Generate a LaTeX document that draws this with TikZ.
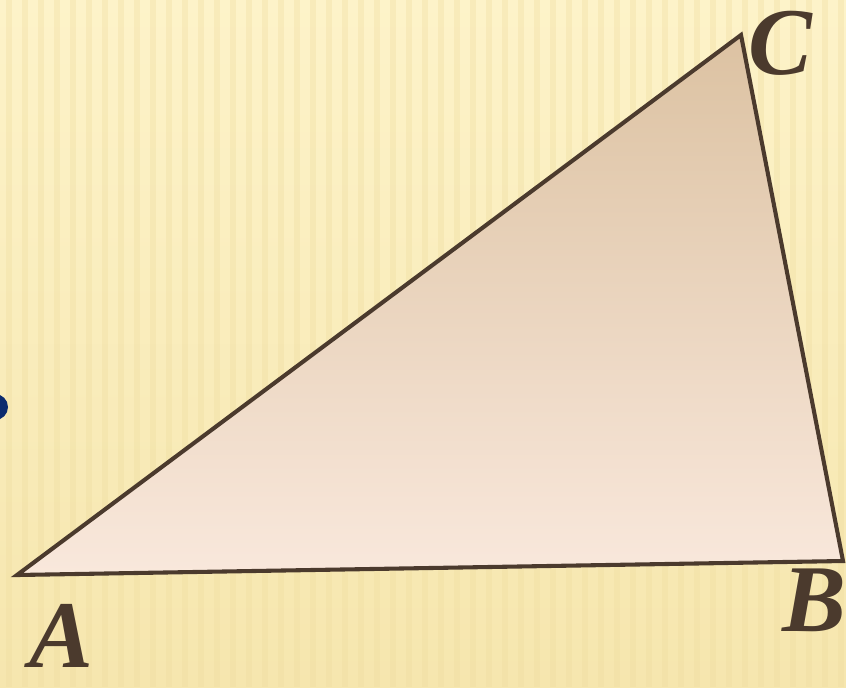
\documentclass[tikz,border=0pt]{standalone}
\usepackage{fontspec}
\setmainfont{Liberation Serif}

\definecolor{bgTop}{HTML}{FDF3C9}
\definecolor{bgBottom}{HTML}{F6E6AE}
\definecolor{stripe}{HTML}{EFDDA0}
\definecolor{fillTop}{HTML}{DCC2A2}
\definecolor{fillBottom}{HTML}{F9E8DC}
\definecolor{edgeBrown}{HTML}{4B3A2D}
\definecolor{dotBlue}{HTML}{0C2B6E}

\begin{document}
\begin{tikzpicture}[
    x=0.025cm, % one unit is one pixel of the slide
    y=-0.025cm, % y runs downwards, as on the slide
    side/.style={draw=edgeBrown, line width=2.9pt, line join=miter},
    vertex label/.style={font=\fontsize{68}{68}\selectfont\bfseries\itshape,
                         text=edgeBrown, inner sep=0pt}
    ]

% --- Frame and background ---
\useasboundingbox (0,0) rectangle (846,687);
\begin{scope}
    \clip (0,0) rectangle (846,687);
    \shade[top color=bgTop, bottom color=bgBottom] (0,0) rectangle (846,687);
    \foreach \x in {6,22,...,846} {
        \fill[stripe, opacity=0.35] (\x,0) rectangle ++(6,687);
    }
    % dot on the left edge
    \fill[dotBlue] (-5,407) circle (13);
\end{scope}

% --- Vertices ---
\coordinate (A) at (17,575);
\coordinate (B) at (843,561);
\coordinate (C) at (741,35);

% --- Triangle ---
\shade[top color=fillTop, bottom color=fillBottom] (A) -- (B) -- (C) -- cycle;
\draw[side] (A) -- (B) -- (C) -- cycle;

% --- Labels ---
\node[vertex label] (labelA) at (61,636) {A};
\node[vertex label] (labelB) at (814,600) {B};
\node[vertex label] (labelC) at (780,43) {C};

\end{tikzpicture}
\end{document}
